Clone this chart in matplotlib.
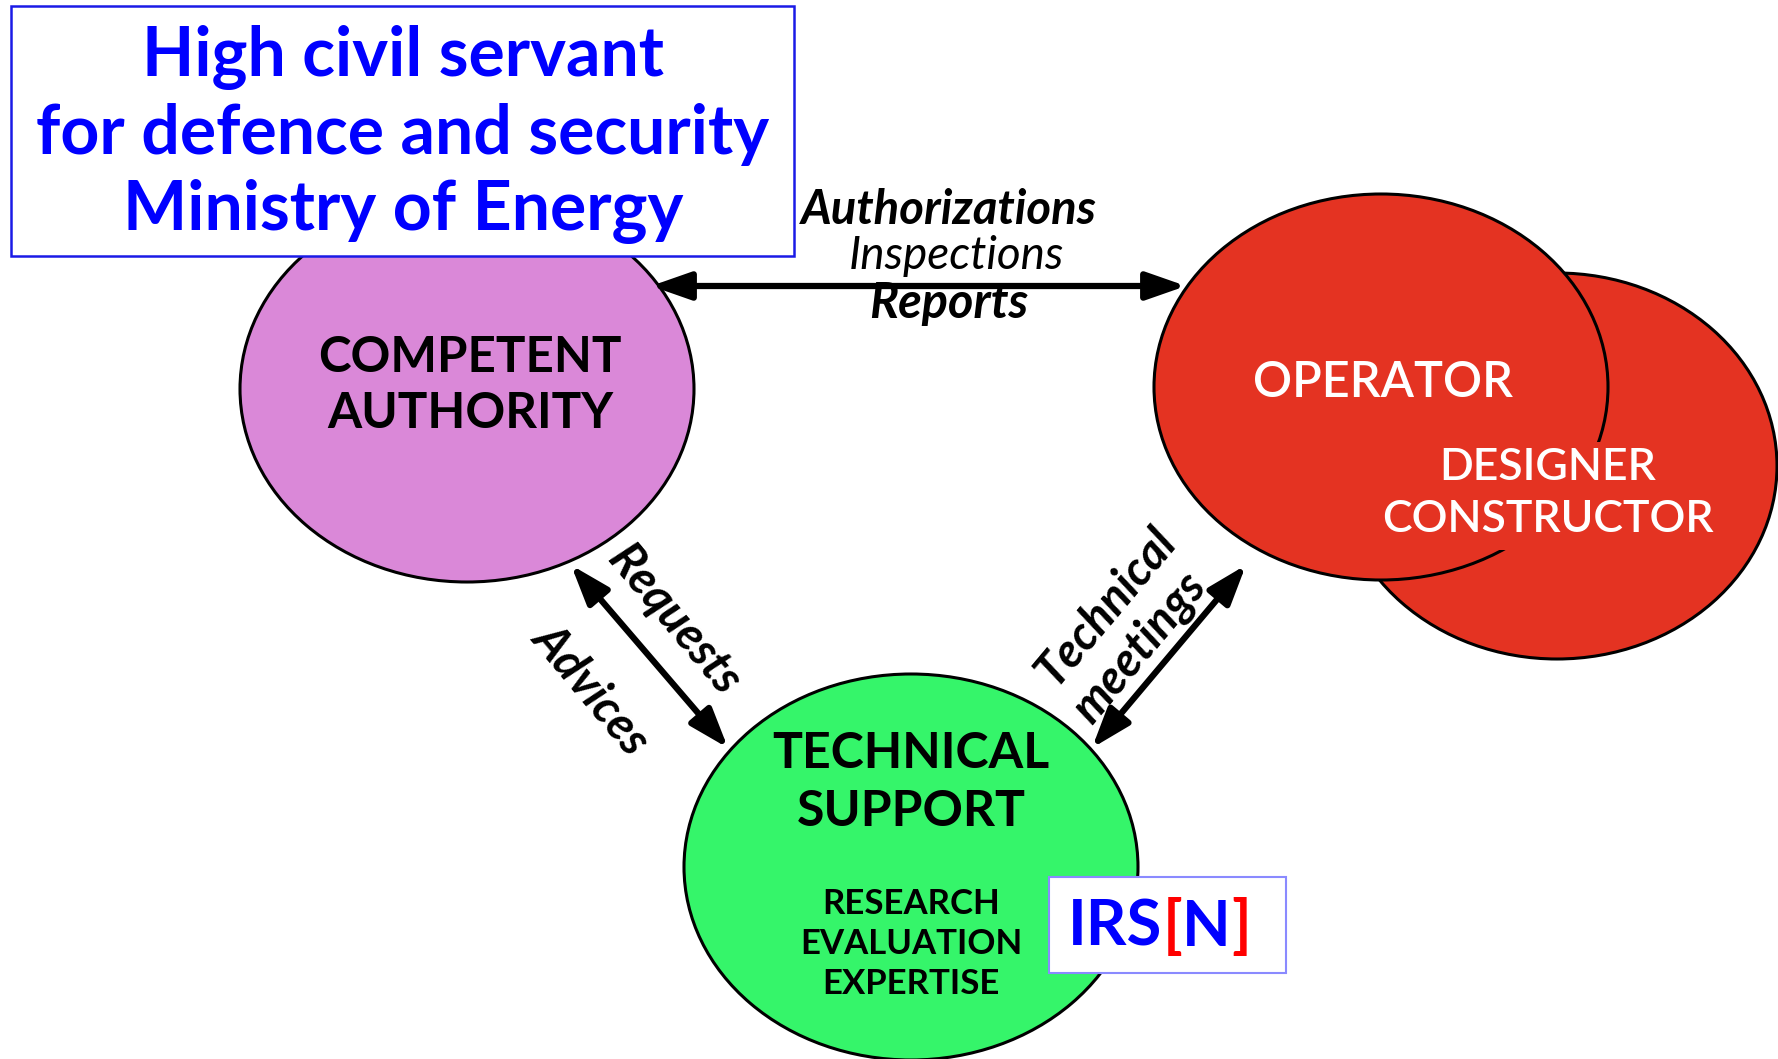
import matplotlib
matplotlib.use("Agg")
import matplotlib.pyplot as plt
from matplotlib.patches import Ellipse, Rectangle

# diagram texts
ministry_lines = ["High civil servant", "for defence and security", "Ministry of Energy"]
authority_lines = ["COMPETENT", "AUTHORITY"]
operator_label = "OPERATOR"
designer_lines = ["DESIGNER", "CONSTRUCTOR"]
support_lines = ["TECHNICAL", "SUPPORT"]
support_tasks = ["RESEARCH", "EVALUATION", "EXPERTISE"]
top_link = ["Authorizations", "Inspections", "Reports"]
left_link = ["Requests", "Advices"]
right_link = ["Technical", "meetings"]
irsn_parts = [("IRS", "#0000ff"), ("[", "#ff0000"), ("N", "#0000ff"), ("]", "#ff0000")]

plt.rcParams["font.family"] = ["Lato", "DejaVu Sans"]

W, H = 1778, 1059
fig = plt.figure(figsize=(W / 100, H / 100), dpi=100)
ax = fig.add_axes([0, 0, 1, 1])
ax.set_xlim(0, W)
ax.set_ylim(H, 0)
ax.axis("off")

PINK = "#da88d8"
RED = "#e43322"
GREEN = "#35f56a"

# ellipses
ax.add_patch(Ellipse((1557, 466), 440, 386, facecolor=RED, edgecolor="black", lw=2.2, zorder=1))
ax.add_patch(Ellipse((1381, 387), 454, 386, facecolor=RED, edgecolor="black", lw=2.2, zorder=2))
ax.add_patch(Ellipse((467, 389), 454, 386, facecolor=PINK, edgecolor="black", lw=2.2, zorder=2))
ax.add_patch(Ellipse((911, 867), 454, 386, facecolor=GREEN, edgecolor="black", lw=2.2, zorder=2))

# ministry box
ax.add_patch(Rectangle((11, 6), 783, 250, facecolor="white", edgecolor="#1a1ae6", lw=1.8, zorder=4))
for i, line in enumerate(ministry_lines):
    ax.text(403, 57 + i * 77, line, color="#0000ff", fontsize=49, fontweight="bold",
            ha="center", va="center", zorder=5)

# ellipse labels
for i, line in enumerate(authority_lines):
    ax.text(470, 357 + i * 57, line, fontsize=35.5, fontweight="bold", ha="center", va="center", zorder=5)
ax.text(1383, 383, operator_label, fontsize=35, color="white", fontweight="semibold",
        ha="center", va="center", zorder=5)
ax.add_patch(Rectangle((1380, 442), 330, 108, facecolor=RED, edgecolor="none", zorder=3))
for i, line in enumerate(designer_lines):
    ax.text(1548, 468 + i * 51, line, fontsize=32, color="white", fontweight="semibold",
            ha="center", va="center", zorder=5)
for i, line in enumerate(support_lines):
    ax.text(911, 754 + i * 57, line, fontsize=36, fontweight="bold", ha="center", va="center", zorder=5)
for i, line in enumerate(support_tasks):
    ax.text(911, 904 + i * 40, line, fontsize=25, fontweight="bold", ha="center", va="center", zorder=5)

# IRSN box
ax.add_patch(Rectangle((1049, 877), 237, 96, facecolor="white", edgecolor="#8a8aff", lw=1.5, zorder=6))
x = 1068
for part, col in irsn_parts:
    t = ax.text(x, 928, part, fontsize=45.5, fontweight="bold", color=col, ha="left", va="center", zorder=7)
    fig.canvas.draw()
    bb = t.get_window_extent()
    x += bb.width

# arrows
arrow_kw = dict(arrowstyle="<|-|>,head_length=1.2,head_width=0.42", lw=4.5, color="black",
                shrinkA=0, shrinkB=0, mutation_scale=20)
ax.annotate("", xy=(1186, 286), xytext=(651, 286), arrowprops=arrow_kw, zorder=8)
ax.annotate("", xy=(728, 748), xytext=(571, 565), arrowprops=arrow_kw, zorder=8)
ax.annotate("", xy=(1092, 748), xytext=(1246, 565), arrowprops=arrow_kw, zorder=8)

# link labels
ax.text(949, 210, top_link[0], fontsize=34, fontweight="bold", style="italic", ha="center", va="center", zorder=9)
ax.text(956, 256, top_link[1], fontsize=33, style="italic", ha="center", va="center", zorder=9)
ax.text(949, 303, top_link[2], fontsize=35, fontweight="bold", style="italic", ha="center", va="center", zorder=9)

ax.text(674, 620, left_link[0], fontsize=34, fontweight="bold", style="italic", rotation=-50,
        rotation_mode="anchor", ha="center", va="center", zorder=9)
ax.text(591, 689, left_link[1], fontsize=34, fontweight="bold", style="italic", rotation=-50,
        rotation_mode="anchor", ha="center", va="center", zorder=9)
ax.text(1106, 607, right_link[0], fontsize=34, fontweight="bold", style="italic", rotation=50,
        rotation_mode="anchor", ha="center", va="center", zorder=9)
ax.text(1139, 647, right_link[1], fontsize=34, fontweight="bold", style="italic", rotation=50,
        rotation_mode="anchor", ha="center", va="center", zorder=9)

fig.savefig("out.png", dpi=100)
